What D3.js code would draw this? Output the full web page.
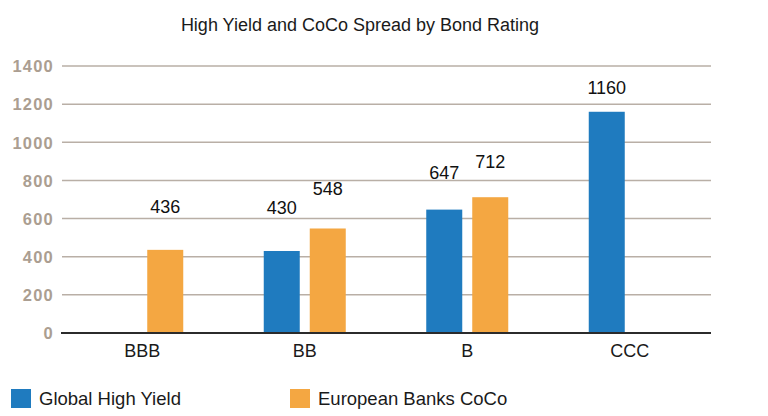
<!DOCTYPE html>
<html>
<head>
<meta charset="utf-8">
<script src="https://cdn.jsdelivr.net/npm/d3@7"></script>
<style>
  html, body { margin: 0; padding: 0; background: #fff; }
  svg { display: block; font-family: "Liberation Sans", Arial, Helvetica, sans-serif; }
</style>
</head>
<body>
<svg id="chart" width="768" height="416"></svg>
<script>
const categories = ["BBB", "BB", "B", "CCC"];
const seriesNames = ["Global High Yield", "European Banks CoCo"];
const globalHighYield = [null, 430, 647, 1160];
const europeanBanksCoCo = [436, 548, 712, null];
const yTicks = [0, 200, 400, 600, 800, 1000, 1200, 1400];
const title = "High Yield and CoCo Spread by Bond Rating";

// layout-only: label lift above each bar (px)
const labelLift = { "Global High Yield": [0, 37, 31, 18], "European Banks CoCo": [37, 33, 29, 0] };

const colors = { "Global High Yield": "#1f7bbf", "European Banks CoCo": "#f4a742" };
const seriesValues = { "Global High Yield": globalHighYield, "European Banks CoCo": europeanBanksCoCo };

const svg = d3.select("#chart");

const x0 = d3.scaleBand().domain(categories).range([61, 711]).padding(0);
const x1 = d3.scaleBand().domain(seriesNames)
  .range([x0.bandwidth() / 2 - 41, x0.bandwidth() / 2 + 41])
  .paddingInner(10 / 46).paddingOuter(0);
const y = d3.scaleLinear().domain([0, 1400]).range([333, 66]);

// title
svg.append("text").attr("x", 360).attr("y", 31).attr("text-anchor", "middle")
  .attr("font-size", 18).attr("fill", "#1a1a1a").text(title);

// gridlines & y labels
const yAxis = d3.axisLeft(y).tickValues(yTicks).tickFormat(d3.format("d")).tickSize(0).tickPadding(0);
const gy = svg.append("g").attr("transform", "translate(54,0)").call(yAxis);
gy.select(".domain").remove();
gy.selectAll("text").attr("font-size", 16.5).attr("font-weight", "bold")
  .attr("fill", "#ab9e91").attr("letter-spacing", 1.2)
  .attr("font-family", "\"Liberation Sans\", Arial, sans-serif").attr("dy", "0.35em");

svg.append("g").selectAll("line").data(yTicks.filter(d => d > 0)).join("line")
  .attr("x1", 62).attr("x2", 711)
  .attr("y1", d => y(d)).attr("y2", d => y(d))
  .attr("stroke", "#b9afa6").attr("stroke-width", 1.5);

// bars
const groups = svg.append("g").selectAll("g").data(categories).join("g")
  .attr("transform", d => `translate(${x0(d)},0)`);

seriesNames.forEach(s => {
  groups.each(function(cat, i) {
    const v = seriesValues[s][i];
    if (v == null) return;
    const g = d3.select(this);
    g.append("rect")
      .attr("x", x1(s)).attr("width", x1.bandwidth())
      .attr("y", y(v)).attr("height", y(0) - y(v))
      .attr("fill", colors[s]);
    g.append("text")
      .attr("x", x1(s) + x1.bandwidth() / 2)
      .attr("y", y(v) - labelLift[s][i])
      .attr("text-anchor", "middle").attr("font-size", 18).attr("fill", "#111")
      .text(v);
  });
});

// zero line
svg.append("line").attr("x1", 61).attr("x2", 711).attr("y1", y(0)).attr("y2", y(0))
  .attr("stroke", "#2b2b2b").attr("stroke-width", 2);

// x axis labels
const xAxis = d3.axisBottom(x0).tickSize(0).tickPadding(0);
const gx = svg.append("g").attr("transform", `translate(0,${y(0)})`).call(xAxis);
gx.select(".domain").remove();
gx.selectAll("text").attr("font-size", 18).attr("fill", "#1a1a1a")
  .attr("font-family", "\"Liberation Sans\", Arial, sans-serif")
  .attr("dy", null).attr("y", 24);

// legend
const legendX = [11, 290];
const legend = svg.append("g").selectAll("g").data(seriesNames).join("g")
  .attr("transform", (d, i) => `translate(${legendX[i]},389)`);
legend.append("rect").attr("width", 20).attr("height", 19).attr("fill", d => colors[d]);
legend.append("text").attr("x", 28).attr("y", 16).attr("font-size", 18.5)
  .attr("fill", "#1a1a1a").text(d => d);
</script>
</body>
</html>
